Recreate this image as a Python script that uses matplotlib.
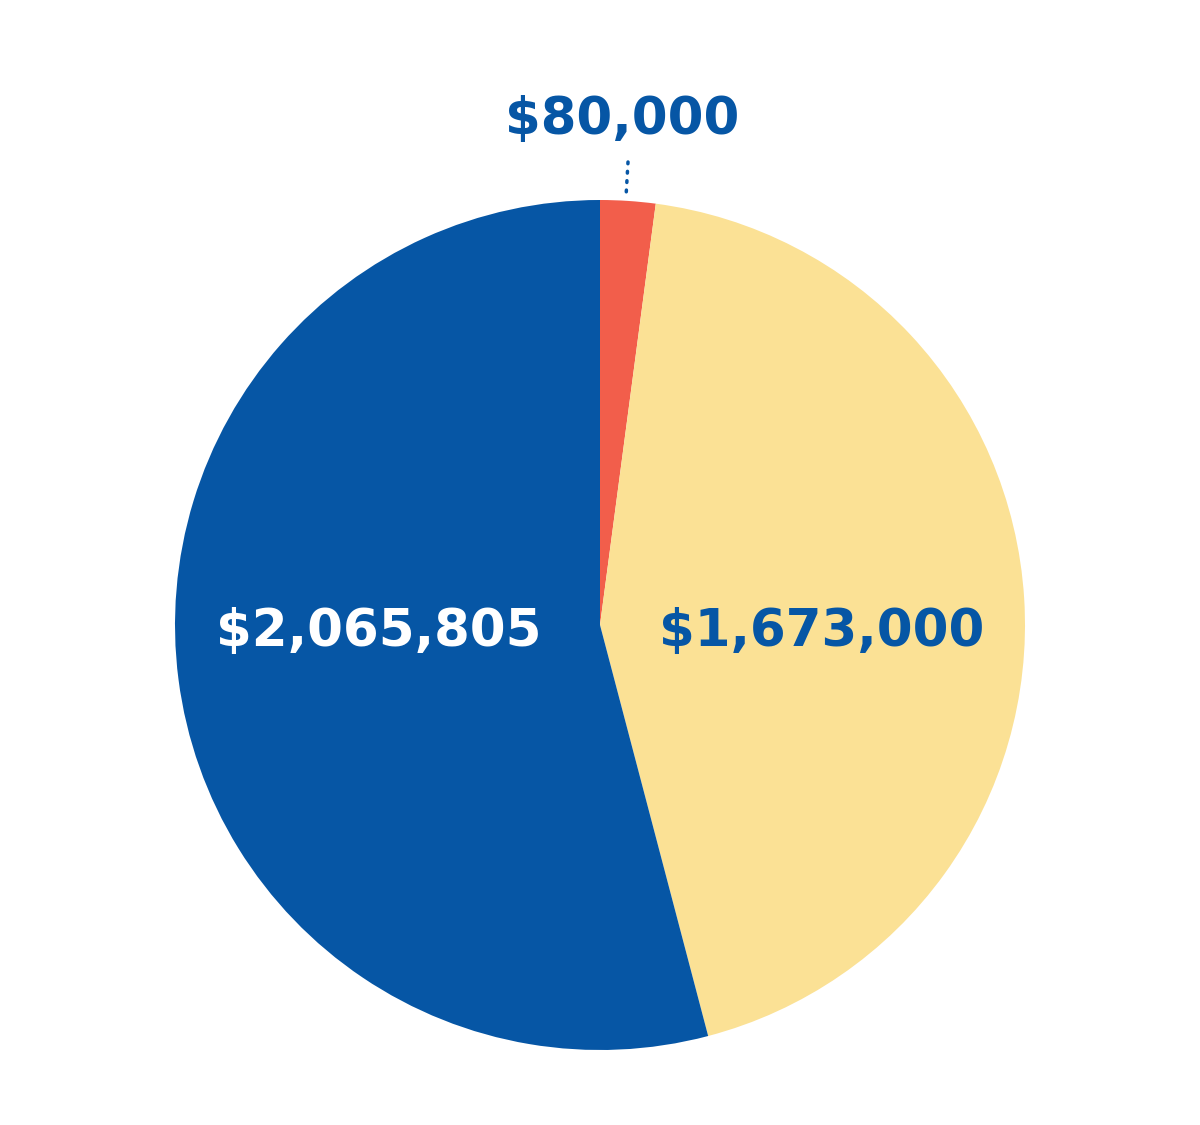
import matplotlib.pyplot as plt

values = [80000, 1673000, 2065805]
labels = ['$80,000', '$1,673,000', '$2,065,805']
colors = ['#F25E4B', '#FBE195', '#0656A5']

W, H = 1200, 1125
cx, cy, r = 600, H - 625, 425

fig = plt.figure(figsize=(12, 11.25), dpi=100)
ax = fig.add_axes([0, 0, 1, 1])

ax.pie(values, colors=colors, startangle=90, counterclock=False,
       center=(cx, cy), radius=r, frame=True,
       wedgeprops=dict(linewidth=0))
ax.set_xlim(0, W)
ax.set_ylim(0, H)
ax.set_aspect('equal')
ax.axis('off')

font = dict(family='DejaVu Sans', fontweight='bold', fontsize=37)
ax.text(cx - 221, cy - 7, labels[2], color='white', ha='center', va='center', **font)
ax.text(cx + 222, cy - 7, labels[1], color='#0656A5', ha='center', va='center', **font)
ax.text(cx + 22, H - 120, labels[0], color='#0656A5', ha='center', va='center', **font)
ax.plot([cx + 28, cx + 26], [H - 162, H - 197], color='#0656A5', lw=2.5,
        linestyle=(0, (0.5, 2.2)), dash_capstyle='round')

fig.savefig('out.png', dpi=100, facecolor='white')
